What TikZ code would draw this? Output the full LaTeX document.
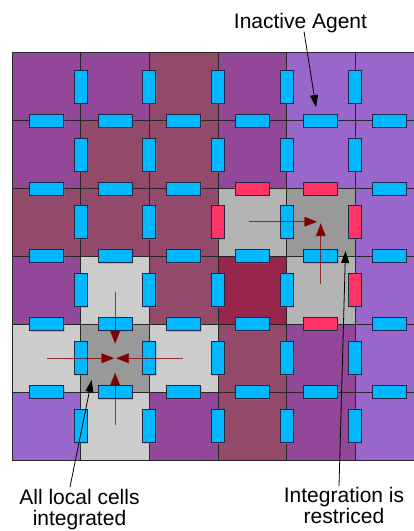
\documentclass[tikz,border=0pt]{standalone}
\usepackage{fontspec}
\setmainfont{Liberation Sans}
\usetikzlibrary{arrows.meta,shadows}

\definecolor{cellpurple}{HTML}{934799}
\definecolor{celllilac}{HTML}{9966CC}
\definecolor{cellmaroon}{HTML}{934A6A}
\definecolor{cellcrimson}{HTML}{98254B}
\definecolor{cellgraylight}{HTML}{CCCCCC}
\definecolor{cellgraymid}{HTML}{B3B3B3}
\definecolor{cellgraydark}{HTML}{999999}
\definecolor{agentblue}{HTML}{00B8FF}
\definecolor{agentpink}{HTML}{FF3366}
\definecolor{flowred}{HTML}{800000}

\begin{document}
\begin{tikzpicture}[x=1pt,y=-1pt]
\tikzset{
  gridline/.style={draw=black!85,line width=0.9pt},
  agent/.style={rectangle,draw={rgb,255:red,30;green,40;blue,70},line width=1pt,inner sep=0pt,
    drop shadow={shadow xshift=1pt,shadow yshift=-1pt,opacity=0.35}},
  vbar/.style={agent,fill=agentblue,minimum width=13pt,minimum height=33pt},
  hbar/.style={agent,fill=agentblue,minimum width=34pt,minimum height=13pt},
  blocked/.style={fill=agentpink},
  flow/.style={draw=flowred,line width=0.9pt,draw opacity=0.75,-{Triangle[length=13pt,width=10pt,fill=flowred]}},
  note/.style={draw=black,line width=0.8pt,-{Triangle[length=12pt,width=8pt]}},
  label/.style={font=\fontsize{21}{21.5}\selectfont,align=center,inner sep=0pt}
}
\useasboundingbox (0,0) rectangle (414,531);

\begin{scope}[shift={(12.3,52.7)},x=68.55pt,y=-67.9pt]
% cells, top row first
\fill[cellpurple] (0,0) rectangle (1,1);
\fill[cellpurple] (1,0) rectangle (2,1);
\fill[cellmaroon] (2,0) rectangle (3,1);
\fill[cellpurple] (3,0) rectangle (4,1);
\fill[celllilac] (4,0) rectangle (5,1);
\fill[celllilac] (5,0) rectangle (6,1);
\fill[cellpurple] (0,1) rectangle (1,2);
\fill[cellmaroon] (1,1) rectangle (2,2);
\fill[cellmaroon] (2,1) rectangle (3,2);
\fill[cellpurple] (3,1) rectangle (4,2);
\fill[celllilac] (4,1) rectangle (5,2);
\fill[celllilac] (5,1) rectangle (6,2);
\fill[cellmaroon] (0,2) rectangle (1,3);
\fill[cellmaroon] (1,2) rectangle (2,3);
\fill[cellmaroon] (2,2) rectangle (3,3);
\fill[cellgraymid] (3,2) rectangle (4,3);
\fill[cellgraydark] (4,2) rectangle (5,3);
\fill[celllilac] (5,2) rectangle (6,3);
\fill[cellpurple] (0,3) rectangle (1,4);
\fill[cellgraylight] (1,3) rectangle (2,4);
\fill[cellmaroon] (2,3) rectangle (3,4);
\fill[cellcrimson] (3,3) rectangle (4,4);
\fill[cellgraymid] (4,3) rectangle (5,4);
\fill[celllilac] (5,3) rectangle (6,4);
\fill[cellgraylight] (0,4) rectangle (1,5);
\fill[cellgraydark] (1,4) rectangle (2,5);
\fill[cellgraylight] (2,4) rectangle (3,5);
\fill[cellmaroon] (3,4) rectangle (4,5);
\fill[cellpurple] (4,4) rectangle (5,5);
\fill[celllilac] (5,4) rectangle (6,5);
\fill[celllilac] (0,5) rectangle (1,6);
\fill[cellgraylight] (1,5) rectangle (2,6);
\fill[cellpurple] (2,5) rectangle (3,6);
\fill[cellmaroon] (3,5) rectangle (4,6);
\fill[cellpurple] (4,5) rectangle (5,6);
\fill[celllilac] (5,5) rectangle (6,6);
% grid lines
\draw[gridline] (0,0) rectangle (6,6);
\draw[gridline] (1,0) -- (1,6);
\draw[gridline] (2,0) -- (2,6);
\draw[gridline] (3,0) -- (3,6);
\draw[gridline] (4,0) -- (4,6);
\draw[gridline] (5,0) -- (5,6);
\draw[gridline] (0,1) -- (6,1);
\draw[gridline] (0,2) -- (6,2);
\draw[gridline] (0,3) -- (6,3);
\draw[gridline] (0,4) -- (6,4);
\draw[gridline] (0,5) -- (6,5);

% agents on vertical borders
\node[vbar] (a_v11) at (1,0.5) {};
\node[vbar] (a_v21) at (2,0.5) {};
\node[vbar] (a_v31) at (3,0.5) {};
\node[vbar] (a_v41) at (4,0.5) {};
\node[vbar] (a_v51) at (5,0.5) {};
\node[vbar] (a_v12) at (1,1.5) {};
\node[vbar] (a_v22) at (2,1.5) {};
\node[vbar] (a_v32) at (3,1.5) {};
\node[vbar] (a_v42) at (4,1.5) {};
\node[vbar] (a_v52) at (5,1.5) {};
\node[vbar] (a_v13) at (1,2.5) {};
\node[vbar] (a_v23) at (2,2.5) {};
\node[vbar,blocked] (a_v33) at (3,2.5) {};
\node[vbar] (a_v43) at (4,2.5) {};
\node[vbar,blocked] (a_v53) at (5,2.5) {};
\node[vbar] (a_v14) at (1,3.5) {};
\node[vbar] (a_v24) at (2,3.5) {};
\node[vbar] (a_v34) at (3,3.5) {};
\node[vbar] (a_v44) at (4,3.5) {};
\node[vbar,blocked] (a_v54) at (5,3.5) {};
\node[vbar] (a_v15) at (1,4.5) {};
\node[vbar] (a_v25) at (2,4.5) {};
\node[vbar] (a_v35) at (3,4.5) {};
\node[vbar] (a_v45) at (4,4.5) {};
\node[vbar] (a_v55) at (5,4.5) {};
\node[vbar] (a_v16) at (1,5.5) {};
\node[vbar] (a_v26) at (2,5.5) {};
\node[vbar] (a_v36) at (3,5.5) {};
\node[vbar] (a_v46) at (4,5.5) {};
\node[vbar] (a_v56) at (5,5.5) {};

% agents on horizontal borders
\node[hbar] (a_h11) at (0.5,1) {};
\node[hbar] (a_h21) at (1.5,1) {};
\node[hbar] (a_h31) at (2.5,1) {};
\node[hbar] (a_h41) at (3.5,1) {};
\node[hbar] (a_h51) at (4.5,1) {};
\node[hbar] (a_h61) at (5.5,1) {};
\node[hbar] (a_h12) at (0.5,2) {};
\node[hbar] (a_h22) at (1.5,2) {};
\node[hbar] (a_h32) at (2.5,2) {};
\node[hbar,blocked] (a_h42) at (3.5,2) {};
\node[hbar,blocked] (a_h52) at (4.5,2) {};
\node[hbar] (a_h62) at (5.5,2) {};
\node[hbar] (a_h13) at (0.5,3) {};
\node[hbar] (a_h23) at (1.5,3) {};
\node[hbar] (a_h33) at (2.5,3) {};
\node[hbar] (a_h43) at (3.5,3) {};
\node[hbar] (a_h53) at (4.5,3) {};
\node[hbar] (a_h63) at (5.5,3) {};
\node[hbar] (a_h14) at (0.5,4) {};
\node[hbar] (a_h24) at (1.5,4) {};
\node[hbar] (a_h34) at (2.5,4) {};
\node[hbar] (a_h44) at (3.5,4) {};
\node[hbar,blocked] (a_h54) at (4.5,4) {};
\node[hbar] (a_h64) at (5.5,4) {};
\node[hbar] (a_h15) at (0.5,5) {};
\node[hbar] (a_h25) at (1.5,5) {};
\node[hbar] (a_h35) at (2.5,5) {};
\node[hbar] (a_h45) at (3.5,5) {};
\node[hbar] (a_h55) at (4.5,5) {};
\node[hbar] (a_h65) at (5.5,5) {};

% integration flows
\coordinate (r_west) at (3.45,2.49);
\coordinate (r_westtip) at (4.45,2.49);
\coordinate (r_south) at (4.5,3.41);
\coordinate (r_southtip) at (4.5,2.51);
\coordinate (l_west) at (0.51,4.5);
\coordinate (l_westtip) at (1.49,4.5);
\coordinate (l_east) at (2.49,4.5);
\coordinate (l_easttip) at (1.51,4.5);
\coordinate (l_north) at (1.5,3.52);
\coordinate (l_northtip) at (1.5,4.29);
\coordinate (l_south) at (1.5,5.48);
\coordinate (l_southtip) at (1.5,4.71);
\end{scope}

\draw[flow] (r_west) -- (r_westtip);
\draw[flow] (r_south) -- (r_southtip);
\draw[flow] (l_west) -- (l_westtip);
\draw[flow] (l_east) -- (l_easttip);
\draw[flow] (l_north) -- (l_northtip);
\draw[flow] (l_south) -- (l_southtip);

% annotations
\node[label,anchor=base] (n_inactive) at (300.5,28) {Inactive Agent};
\node[label,anchor=north] (n_local) at (79.5,489) {All local cells\\integrated};
\node[label,anchor=north] (n_restrict) at (344,487) {Integration is\\restriced};
\coordinate (t_inactive) at (316,107);
\coordinate (t_local) at (91.7,380);
\coordinate (t_restrict) at (345.5,251);
\draw[note] ([xshift=3.5pt,yshift=1pt]n_inactive.south) -- (t_inactive);
\draw[note] ([xshift=-9.5pt,yshift=2pt]n_local.north) -- (t_local);
\draw[note] ([xshift=-5pt,yshift=1pt]n_restrict.north) -- (t_restrict);
\end{tikzpicture}
\end{document}
